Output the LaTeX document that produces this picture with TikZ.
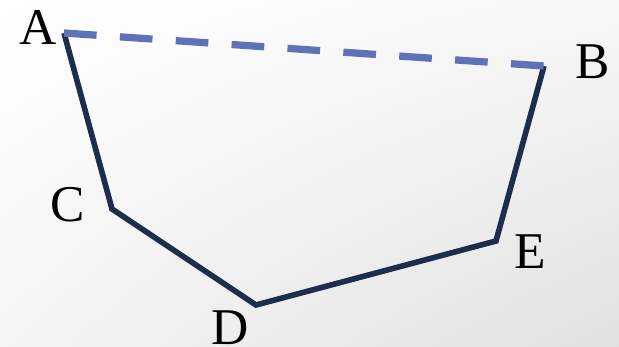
\documentclass[tikz,border=0pt]{standalone}
\usepackage{fontspec}
\setmainfont{Liberation Serif}
\usetikzlibrary{math, shadings}
\definecolor{qnavy}{RGB}{29,46,76}
\definecolor{qdash}{RGB}{94,115,183}

\begin{document}
\begin{tikzpicture}[x=0.03cm,y=-0.03cm]

\tikzmath{
\W = 619;
\H = 347;
}

%background
\shade[upper left=white, upper right=gray!6, lower left=gray!8, lower right=gray!24] (0,0) rectangle (\W,\H);
\useasboundingbox (0,0) rectangle (\W,\H);

%corners
\coordinate (A) at (64,33);
\coordinate (B) at (544,66);
\coordinate (C) at (112,209);
\coordinate (D) at (256,305);
\coordinate (E) at (496,241);

%labels
\tikzset{lbl/.style={inner sep=0pt, font=\fontsize{44}{44}\selectfont}}
\node[lbl] (lA) at (38,27) {A};
\node[lbl] (lB) at (593,62) {B};
\node[lbl] (lC) at (68,205) {C};
\node[lbl] (lD) at (230,328) {D};
\node[lbl] (lE) at (530,252) {E};

%path
\draw[color=qnavy, line width=4.8pt, line join=miter] (A) -- (C) -- (D) -- (E) -- (B);
\draw[color=qdash, line width=6.2pt, dash pattern=on 0.98cm off 0.7cm] (A) -- (B);

\end{tikzpicture}
\end{document}
